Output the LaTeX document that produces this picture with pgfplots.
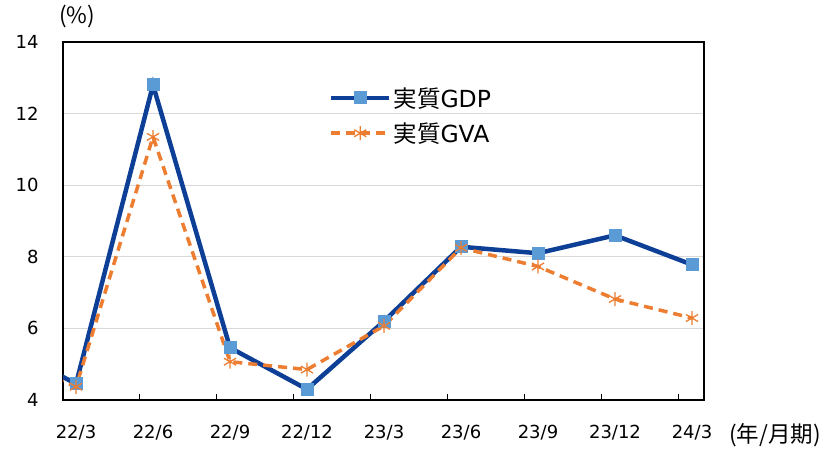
\documentclass[border=0pt]{standalone}
\usepackage{pgfplots}
\pgfplotsset{compat=1.18}
\usepackage{fontspec}
\setmainfont{DejaVu Sans}
\newfontfamily\jp{Noto Sans CJK JP}
\definecolor{gdpline}{HTML}{0E3F97}
\definecolor{gdpmark}{HTML}{5B9BD5}
\definecolor{gva}{HTML}{ED7D31}
\pgfplotsset{
  gdpstyle/.style={gdpline, line width=4.5pt, mark=square*, mark size=6pt,
    mark options={fill=gdpmark, draw=gdpmark, line width=0pt}},
  gvastyle/.style={gva, line width=3.5pt, dash pattern=on 9pt off 6pt, mark=asterisk, mark size=7pt,
    mark options={solid, draw=gva, line width=1.3pt}},
}
\begin{document}
\begin{tikzpicture}
\begin{axis}[
  scale only axis, width=641pt, height=358pt,
  xmin=-0.169, xmax=8.156, ymin=4, ymax=14,
  ytick={4,6,...,14},
  ymajorgrids, grid style={draw=black!15, line width=1pt},
  ytick style={draw=none},
  xtick={0.831,1.831,...,7.831}, xticklabels={},
  xtick pos=bottom, tick align=inside, major tick length=6pt,
  xtick style={black, line width=1pt},
  extra x ticks={0,1,...,8},
  extra x tick labels={22/3,22/6,22/9,22/12,23/3,23/6,23/9,23/12,24/3},
  extra x tick style={major tick length=0pt, grid=none, xticklabel style={yshift=-22pt}},
  axis line style={line width=1.2pt, black},
  /pgf/number format/assume math mode=true,
  tick label style={font=\fontsize{18}{20}\selectfont},
  yticklabel style={xshift=-21pt},
  legend style={at={(axis description cs:0.41,0.885)}, anchor=north west, draw=none, fill=none,
     font=\fontsize{23.5}{27}\selectfont, row sep=10pt, cells={anchor=west}},
  legend image code/.code={%
    \draw[mark repeat=2,mark phase=2,#1] plot coordinates {(0pt,0pt) (29pt,0pt) (58pt,0pt)};
  },
]
\addplot[gdpstyle, mark=none, forget plot]
  coordinates {(-1,5.6) (0,4.45) (1,12.8) (2,5.46) (3,4.3) (4,6.2) (5,8.28) (6,8.1) (7,8.6) (8,7.78)};
\addplot[gvastyle, mark=none, forget plot]
  coordinates {(-1,5.2) (0,4.37) (1,11.35) (2,5.07) (3,4.85) (4,6.07) (5,8.25) (6,7.73) (7,6.82) (8,6.29)};
\addplot[gdpstyle, only marks, forget plot]
  coordinates {(0,4.45) (1,12.8) (2,5.46) (3,4.3) (4,6.2) (5,8.28) (6,8.1) (7,8.6) (8,7.78)};
\addplot[gvastyle, only marks, forget plot]
  coordinates {(0,4.37) (1,11.35) (2,5.07) (3,4.85) (4,6.07) (5,8.25) (6,7.73) (7,6.82) (8,6.29)};
\addlegendimage{gdpstyle}
\addlegendentry{{\jp 実質}GDP}
\addlegendimage{gvastyle}
\addlegendentry{{\jp 実質}GVA}
\end{axis}
\node[font=\jp\fontsize{22.5}{24}\selectfont] at ([shift={(14pt,25pt)}]current axis.north west) {(\%)};
\node[font=\jp\fontsize{22.5}{24}\selectfont] at ([shift={(71pt,-35pt)}]current axis.south east) {(年/月期)};
\pgfresetboundingbox
\path (current axis.south west) ++(-63pt,-48pt) rectangle ++(821pt,448pt);
\end{tikzpicture}
\end{document}
